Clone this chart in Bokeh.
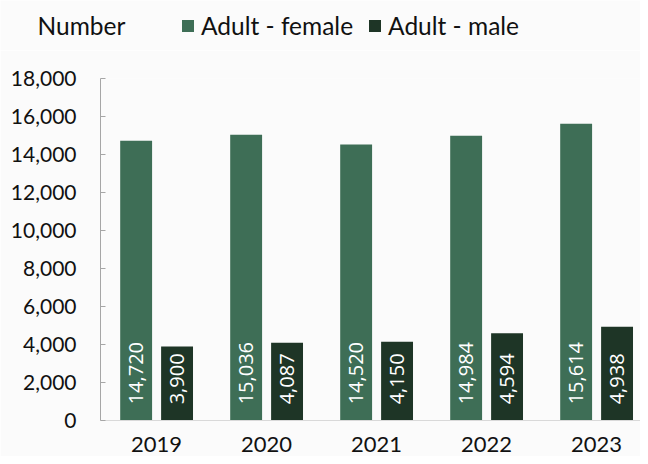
import math
from bokeh.plotting import figure
from bokeh.layouts import column
from bokeh.models import (ColumnDataSource, FixedTicker, NumeralTickFormatter,
                          Legend, LegendItem, Range1d)
from bokeh.core.properties import value
from bokeh.embed import file_html
from bokeh.resources import INLINE

years = ["2019", "2020", "2021", "2022", "2023"]
female = [14720, 15036, 14520, 14984, 15614]
male = [3900, 4087, 4150, 4594, 4938]
y_ticks = [0, 2000, 4000, 6000, 8000, 10000, 12000, 14000, 16000, 18000]
series_names = ["Adult - female", "Adult - male"]
unit_label = "Number"

FEMALE_C = "#3e6e56"
MALE_C = "#1e3526"
BG = "#fbfbfb"
TXT = "#111111"
OFF = 0.186
BW = 0.29
W = 640
HEAD_H = 50
MAIN_H = 406

pos = list(range(1, len(years) + 1))
src = ColumnDataSource(dict(
    xf=[q - OFF for q in pos], xm=[q + OFF for q in pos],
    female=female, male=male,
    lf=[f"{v:,}" for v in female], lm=[f"{v:,}" for v in male],
    ly=[850] * len(years),
))

# ---------- header (unit label + legend) ----------
h = figure(width=W, height=HEAD_H, output_backend="svg", toolbar_location=None,
           x_range=Range1d(0, W), y_range=Range1d(0, HEAD_H),
           x_axis_type=None, y_axis_type=None,
           min_border_left=0, min_border_right=0, min_border_top=0, min_border_bottom=0,
           background_fill_color=BG, border_fill_color=BG, outline_line_color=None)
h.frame_align = False
h.xgrid.grid_line_color = None
h.ygrid.grid_line_color = None
h.text(x=[37], y=[HEAD_H - 25], text=[unit_label], text_align="left",
       text_baseline="middle", text_color=TXT, text_font=value("Lato"),
       text_font_size="24.5px")
# hidden renderers that only supply the legend swatches
dr_f = h.vbar(x="xf", top="female", width=BW, source=src, fill_color=FEMALE_C,
              line_color=None, visible=False)
dr_m = h.vbar(x="xm", top="male", width=BW, source=src, fill_color=MALE_C,
              line_color=None, visible=False)
legend = Legend(items=[LegendItem(label=series_names[0], renderers=[dr_f]),
                       LegendItem(label=series_names[1], renderers=[dr_m])],
                orientation="horizontal", location=(180, 10),
                background_fill_alpha=0, border_line_color=None,
                inactive_fill_alpha=0,
                padding=0, margin=0, spacing=14, label_standoff=6,
                glyph_width=15, glyph_height=15,
                label_text_font="Lato", label_text_font_size="24.5px",
                label_text_color=TXT)
h.add_layout(legend, "center")

# ---------- main chart ----------
p = figure(width=W, height=MAIN_H, output_backend="svg", toolbar_location=None,
           x_range=Range1d(0.49, 0.49 + 540 / 110), y_range=Range1d(0, 18000),
           min_border_left=100, min_border_right=0, min_border_top=28,
           min_border_bottom=36, background_fill_color=BG, border_fill_color=BG,
           outline_line_color=None)
p.frame_align = False
p.xgrid.grid_line_color = None
p.ygrid.grid_line_color = None

p.vbar(x="xf", top="female", width=BW, bottom=0, source=src,
       fill_color=FEMALE_C, line_color=None)
p.vbar(x="xm", top="male", width=BW, bottom=0, source=src,
       fill_color=MALE_C, line_color=None)

for col, xc in (("lf", "xf"), ("lm", "xm")):
    p.text(x=xc, y="ly", text=col, source=src, angle=math.pi / 2,
           text_align="left", text_baseline="middle", text_color="white",
           text_font=value("Open Sans"), text_font_size="20px")

ya = p.yaxis[0]
ya.ticker = FixedTicker(ticks=y_ticks)
ya.formatter = NumeralTickFormatter(format="0,0")
ya.axis_line_color = "#a6a6a6"
ya.major_tick_line_color = "#a6a6a6"
ya.major_tick_in = 5
ya.major_tick_out = 0
ya.minor_tick_line_color = None
ya.major_label_standoff = 24
ya.major_label_text_font = "Lato"
ya.major_label_text_font_size = "21px"
ya.major_label_text_color = TXT

xa = p.xaxis[0]
xa.ticker = FixedTicker(ticks=pos)
xa.major_label_overrides = {q: y for q, y in zip(pos, years)}
xa.axis_line_color = "#d9d9d9"
xa.major_tick_line_color = None
xa.minor_tick_line_color = None
xa.major_label_standoff = 10
xa.major_label_text_font = "Lato"
xa.major_label_text_font_size = "22px"
xa.major_label_text_color = TXT

layout = column(h, p, spacing=0)
open("out.html", "w").write(file_html(layout, INLINE))
